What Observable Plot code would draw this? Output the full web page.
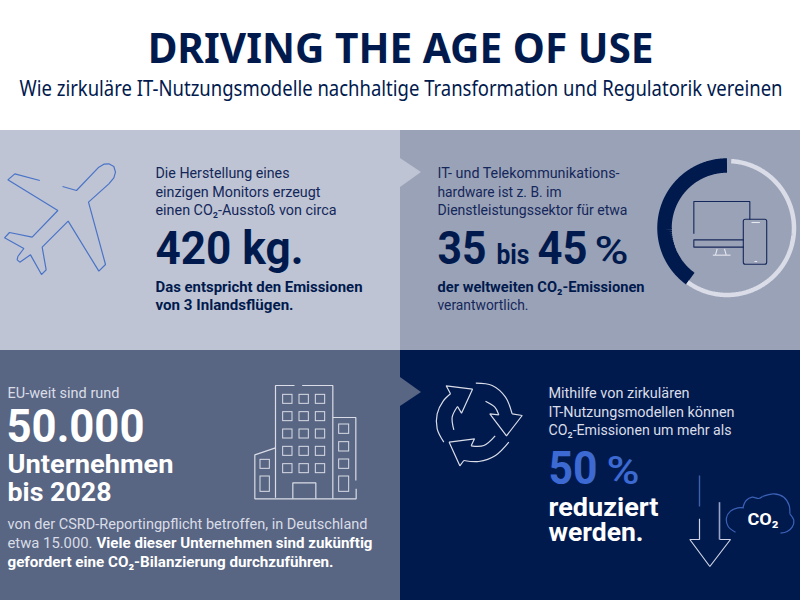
<!DOCTYPE html>
<html lang="de">
<head>
<meta charset="utf-8">
<script src="https://cdn.jsdelivr.net/npm/d3@7"></script>
<script src="https://cdn.jsdelivr.net/npm/@observablehq/plot@0.6"></script>
<style>
  html, body { margin: 0; padding: 0; background: #fff; }
  #page { width: 800px; height: 600px; overflow: hidden; font-family: "Noto Sans", sans-serif; }
  #head { position: relative; width: 800px; height: 130px; color: #011a4e; }
  #head span { position: absolute; white-space: nowrap; line-height: 1; }
  #chart svg { display: block; }
</style>
</head>
<body>
<div id="page">
  <div id="head"></div>
  <div id="chart"></div>
</div>
<script>
// ---- Text content ----
const headline = "DRIVING THE AGE OF USE";
const subline = "Wie zirkuläre IT-Nutzungsmodelle nachhaltige Transformation und Regulatorik vereinen";
const labels = [
  "Die Herstellung eines", "einzigen Monitors erzeugt", "einen CO₂-Ausstoß von circa",
  "420 kg.", "Das entspricht den Emissionen", "von 3 Inlandsflügen.",
  "IT- und Telekommunikations-", "hardware ist z. B. im", "Dienstleistungssektor für etwa",
  "35", "bis", "45", "%", "der weltweiten CO₂-Emissionen", "verantwortlich.",
  "EU-weit sind rund", "50.000", "Unternehmen", "bis 2028",
  "von der CSRD-Reportingpflicht betroffen, in Deutschland", "etwa 15.000.",
  "Viele dieser Unternehmen sind zukünftig", "gefordert eine CO₂-Bilanzierung durchzuführen.",
  "Mithilfe von zirkulären", "IT-Nutzungsmodellen können", "CO₂-Emissionen um mehr als",
  "50", "%", "reduziert", "werden.", "CO₂"
];
// ---- Values ----
const donutShare = 40;          // midpoint of 35 bis 45 %
const donutGap = 1;             // gap between the two arcs, in percent
const panelNames = ["Monitor", "Hardware", "CSRD", "Reduktion"];

// ---- Layout and style, parallel to the arrays above ----
const navy = "#011a4e", ink = "#14275a", pale = "#dadde7", white = "#ffffff", blue = "#3c6ad2";
const panelBoxes = [[0, 400, 130, 350], [400, 800, 130, 350], [0, 400, 350, 600], [400, 800, 350, 600]];
const panelFills = ["#bec4d3", "#9aa2b7", "#586583", navy];
const labelLayout = [ // x, baseline, size, width, weight, colour
  [155, 177, 15.5, 134, 400, ink], [155, 196, 15.5, 165, 400, ink], [155, 214, 15.5, 181, 400, ink],
  [155, 263, 47, 148, 700, navy], [155, 291, 15, 207, 700, navy], [155, 309, 15, 138, 700, navy],
  [437, 177, 15.5, 182, 400, ink], [437, 196, 15.5, 124, 400, ink], [437, 214, 15.5, 190, 400, ink],
  [437, 263, 47, 49, 700, navy], [496, 263, 28, 33, 700, navy], [537, 263, 47, 50, 700, navy],
  [594, 263, 38, 34, 500, navy], [437, 291, 15, 207, 700, navy], [437, 309, 15.5, 91, 400, ink],
  [7, 397, 15.5, 112, 400, pale], [6, 441, 47, 138, 700, white], [7, 472, 25.5, 166, 700, white], [7, 500, 25.5, 104, 700, white],
  [7, 528, 15.5, 360, 400, pale], [7, 547, 15.5, 85, 400, pale],
  [96, 547, 15, 276, 700, white], [7, 566, 15, 326, 700, white],
  [548, 397, 15.5, 141, 400, pale], [548, 416, 15.5, 186, 400, pale], [548, 434, 15.5, 183, 400, pale],
  [548, 483, 46, 49, 700, blue], [606, 483, 38, 33, 500, blue],
  [548, 515, 25, 110, 700, white], [548, 540, 25, 95, 700, white], [747, 524, 17, 31, 700, white]
];
const labelRows = labels.map((text, i) => {
  const [x, y, size, width, weight, color] = labelLayout[i];
  return {text, x, y, size, width, weight, color};
});

// Icon outlines, read in reference crop pixels (3x) and converted by `crop`
const crop = (ox, oy, pts) => pts.map(([x, y]) => [ox + x / 3, oy + y / 3]);
const planeOutline = crop(0, 130, [[118,150],[43,130],[22,148],[172,240],[95,320],[27,306],[12,322],[70,354],[52,378],[50,388],[58,395],[90,373],[123,432],[137,418],[125,350],[203,272],[295,422],[315,402],[264,215],[325,160],[340,142],[345,125],[340,108],[325,100],[310,101],[295,110],[228,180],[186,168]]);
const panelNotch = [
  {rows: [{x: 400, y1: 158, y2: 187}, {x: 421, y1: 172, y2: 172}], fill: "#bec4d3"},
  {rows: [{x: 400, y1: 377, y2: 406}, {x: 421, y1: 392, y2: 392}], fill: "#586583"}
];
const monitorLines = [
  [[130,250],[130,153],[298,153],[298,208]],
  [[280,268],[130,268],[130,290],[280,290]]
].map(p => crop(650, 150, p));
const monitorPale = [
  [[200,295],[195,313]], [[222,295],[227,313]], [[187,314],[240,314]],
  [[303,216],[328,216]], [[312,333],[320,333]]
].map(p => crop(650, 150, p));
const phoneBox = [{x1: 743.3, x2: 766.7, y1: 219.3, y2: 264.3}];

const buildingLines = [
  [[825,442],[825,105],[882,105]], [[905,105],[997,105],[997,445]],
  [[825,292],[763,313],[763,445],[1067,445],[1067,415]],
  [[997,201],[1066,201],[1066,390]],
  [[877,445],[877,397],[946,397],[946,445]]
].map(p => crop(0, 350, p));
const windowCols = [[848,876],[897,925],[946,974]];
const windowRows = [[133,160],[185,212],[237,264],[289,316],[341,368]];
const sideWindows = [
  [1016,1046,222,250],[1016,1046,275,303],[1016,1046,327,355],[1016,1046,378,424],
  [780,808,328,355],[780,808,378,424]
];
const windows = [
  ...windowCols.flatMap(([a, b]) => windowRows.map(([c, d]) => [a, b, c, d])),
  ...sideWindows
].map(([a, b, c, d]) => ({x1: a / 3, x2: b / 3, y1: 350 + c / 3, y2: 350 + d / 3}));

const recycleArcs = [
  [[130,275],[110,235],[110,190],[128,152],[150,130]],
  [[171,168],[155,200],[160,238]],
  [[226,98],[275,105],[315,140],[335,190]],
  [[295,193],[283,170],[255,152]],
  [[325,275],[285,315],[235,333],[190,330]],
  [[212,286],[250,285],[284,256]]
].map(p => crop(400, 350, p));
const recycleHeads = [
  [[150,130],[137,106],[216,116],[183,188],[171,168]],
  [[335,190],[365,195],[318,256],[268,190],[295,193]],
  [[190,330],[178,346],[146,275],[222,265],[212,286]]
].map(p => crop(400, 350, p));
const arrowBlue = crop(680, 470, [[57,15],[57,108]]);
const arrowPale = crop(680, 470, [[57,145],[57,207],[28,207],[88,288],[150,207],[117,207]]);
const arrowShaft = crop(680, 470, [[117,207],[117,95]]);
const cloudArcs = [
  [[165,185],[143,168],[138,142],[150,122],[172,112],[190,112]],
  [[187,112],[197,90],[215,80],[235,84],[246,78]],
  [[246,78],[280,70],[310,80],[326,105],[328,130]],
  [[328,130],[340,150],[335,170],[320,183],[300,188]]
].map(p => crop(680, 470, p));

// ---- Donut geometry from the share ----
const donutCentre = [726.5, 227.5];
const donutPoint = (pct, r) => {
  const a = pct / 100 * 2 * Math.PI;
  return [donutCentre[0] + r * Math.sin(a), donutCentre[1] - r * Math.cos(a)];
};
const darkArc = d3.range(0, donutShare + 0.25, 0.25).map(p => donutPoint(-p, 62.5));
const lightArc = d3.range(donutGap, 100 - donutShare + 0.25, 0.25).map(p => donutPoint(p, 67));

// ---- Marks ----
const path = (pts, stroke, strokeWidth = 1.2, curve = "linear") =>
  Plot.line(pts, {x: d => d[0], y: d => d[1], stroke, strokeWidth, curve, strokeLinejoin: "miter", strokeLinecap: "butt"});

const fitWidth = rows => function (index, scales, values, dimensions, context, next) {
  const g = next(index, scales, values, dimensions, context);
  d3.select(g).selectAll("text").each(function () {
    const row = rows[d3.select(this).datum()];
    if (row) this.setAttribute("textLength", row.width), this.setAttribute("lengthAdjust", "spacingAndGlyphs");
  });
  return g;
};
const textMarks = [400, 500, 700].map(weight => {
  const rows = labelRows.filter(d => d.weight === weight);
  return Plot.text(rows, {
    x: "x", y: "y", text: "text", fontSize: "size", fill: "color",
    fontWeight: weight, textAnchor: "start", lineAnchor: "bottom",
    fontFamily: "Roboto", render: fitWidth(rows)
  });
});

const chart = Plot.plot({
  width: 800, height: 470,
  margin: 0,
  x: {domain: [0, 800], axis: null},
  y: {domain: [600, 130], axis: null},
  color: {type: "identity"},
  marks: [
    Plot.rect(panelNames.map((name, i) => ({name, x1: panelBoxes[i][0], x2: panelBoxes[i][1], y1: panelBoxes[i][2], y2: panelBoxes[i][3], fill: panelFills[i]})),
      {x1: "x1", x2: "x2", y1: "y1", y2: "y2", fill: "fill"}),
    ...panelNotch.map(n => Plot.area(n.rows, {x1: "x", y1: "y1", y2: "y2", fill: n.fill})),
    path(planeOutline, "#4a73c8", 1.2),
    path(darkArc, navy, 14.5),
    path(lightArc, "#dadde7", 4.5),
    ...monitorLines.map(p => path(p, "#14275a", 1.1)),
    ...monitorPale.map(p => path(p, "#e6e8ef", 1.1)),
    Plot.rect(phoneBox, {x1: "x1", x2: "x2", y1: "y1", y2: "y2", stroke: "#14275a", strokeWidth: 1.1, fill: "none", r: 2}),
    ...buildingLines.map(p => path(p, pale, 1.2)),
    Plot.rect(windows, {x1: "x1", x2: "x2", y1: "y1", y2: "y2", stroke: pale, strokeWidth: 1, fill: "none"}),
    ...recycleArcs.map(p => path(p, pale, 1.2, "catmull-rom")),
    ...recycleHeads.map(p => path(p, pale, 1.2)),
    path(arrowBlue, "#3f5fa8", 1.4),
    path(arrowPale, "#cfd3e3", 1.2),
    path(arrowShaft, "#9aa3c8", 1.6),
    ...cloudArcs.map(p => path(p, "#3c62b8", 1.2, "catmull-rom")),
    ...textMarks
  ]
});
document.getElementById("chart").append(chart);

// Heading above the SVG, fitted to the reference widths
const head = document.getElementById("head");
[[headline, 42, 700, 401, 26, 506], [subline, 22, 400, 400.5, 75.5, 763]].forEach(([text, size, weight, centre, top, width]) => {
  const s = document.createElement("span");
  s.textContent = text;
  s.style.fontSize = size + "px";
  s.style.fontWeight = weight;
  s.style.top = top + "px";
  head.append(s);
  const w = s.getBoundingClientRect().width;
  s.style.left = (centre - w / 2) + "px";
  s.style.transform = `scaleX(${width / w})`;
});
</script>
</body>
</html>
